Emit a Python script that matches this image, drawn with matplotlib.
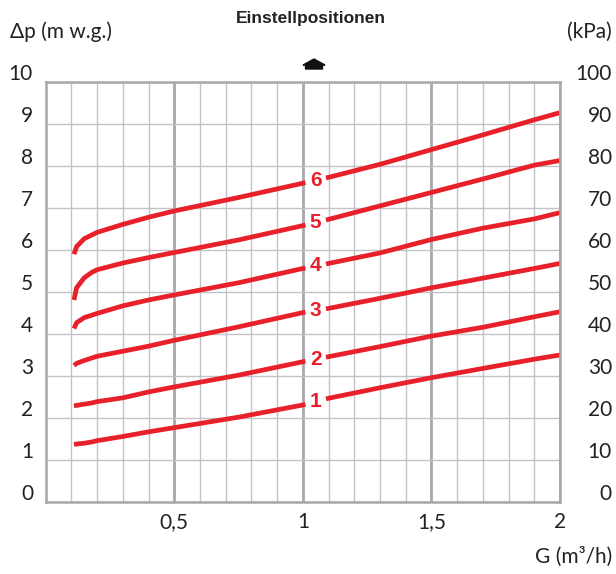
import numpy as np
import matplotlib
matplotlib.use("Agg")
import matplotlib.pyplot as plt
from matplotlib.patches import Polygon
from matplotlib.transforms import blended_transform_factory

# Durchfluss G (m3/h)
g = [0.11, 0.12, 0.15, 0.18, 0.2, 0.3, 0.4, 0.5, 0.75, 1.0, 1.1, 1.3, 1.5, 1.7, 1.9, 2.0]

# Druckverlust (m w.g.) je Einstellposition
pos_1 = [1.37, 1.38, 1.40, 1.43, 1.46, 1.56, 1.67, 1.77, 2.02, 2.31, 2.47, 2.72, 2.96, 3.18, 3.40, 3.50]
pos_2 = [2.29, 2.30, 2.33, 2.36, 2.39, 2.48, 2.62, 2.74, 3.02, 3.34, 3.46, 3.70, 3.95, 4.16, 4.41, 4.53]
pos_3 = [3.25, 3.30, 3.37, 3.43, 3.47, 3.59, 3.71, 3.85, 4.17, 4.51, 4.61, 4.85, 5.10, 5.33, 5.56, 5.68]
pos_4 = [4.13, 4.27, 4.39, 4.45, 4.49, 4.67, 4.81, 4.93, 5.22, 5.56, 5.68, 5.93, 6.25, 6.52, 6.74, 6.89]
pos_5 = [4.81, 5.10, 5.34, 5.47, 5.53, 5.69, 5.82, 5.94, 6.24, 6.58, 6.73, 7.05, 7.37, 7.69, 8.02, 8.13]
pos_6 = [5.90, 6.08, 6.27, 6.36, 6.42, 6.61, 6.78, 6.93, 7.25, 7.59, 7.73, 8.04, 8.39, 8.74, 9.10, 9.27]
curves = [pos_1, pos_2, pos_3, pos_4, pos_5, pos_6]
curve_names = ["1", "2", "3", "4", "5", "6"]

x_ticks = [0.5, 1, 1.5, 2]
x_labels = ["0,5", "1", "1,5", "2"]
y_left = list(range(0, 11))
y_right = [v * 10 for v in y_left]

red = "#e8202a"
grid_light = "#c3c3c7"
grid_dark = "#a7a7ac"
tick_font = ["Lato", "DejaVu Sans"]

W, H = 616, 574
fig = plt.figure(figsize=(W / 100, H / 100), dpi=100)
ax = fig.add_axes([45.7 / W, 1 - 502 / H, (560 - 45.7) / W, (502 - 82) / H])
ax.set_xlim(0, 2)
ax.set_ylim(0, 10)

# Raster
ax.set_xticks(x_ticks)
ax.set_xticks(np.arange(1, 20) / 10, minor=True)
ax.set_yticks(y_left)
ax.set_yticklabels([])
ax.set_xticklabels(x_labels, fontsize=15, family=tick_font, color="#222222")
ax.tick_params(which="both", length=0)
ax.tick_params(axis="x", pad=7)
ax.grid(True, which="minor", axis="x", color=grid_light, linewidth=1.0)
ax.grid(True, which="major", axis="x", color=grid_dark, linewidth=2.0)
ax.grid(True, which="major", axis="y", color=grid_light, linewidth=1.0)
ax.set_axisbelow(True)
for s in ax.spines.values():
    s.set_color(grid_dark)
    s.set_linewidth(1.8)

# Kennlinien mit Lücke für die Beschriftung
gap_lo, gap_hi, lab_x = 1.01, 1.09, 1.05
for vals, name in zip(curves, curve_names):
    x = np.array(g)
    y = np.array(vals)
    left = x < gap_lo
    right = x > gap_hi
    xl = np.append(x[left], gap_lo)
    yl = np.append(y[left], np.interp(gap_lo, x, y))
    xr = np.insert(x[right], 0, gap_hi)
    yr = np.insert(y[right], 0, np.interp(gap_hi, x, y))
    ax.plot(xl, yl, color=red, linewidth=3.4, solid_capstyle="butt",
            solid_joinstyle="round")
    ax.plot(xr, yr, color=red, linewidth=3.4, solid_capstyle="butt",
            solid_joinstyle="round")
    ax.text(lab_x, np.interp(lab_x, x, y), name, color=red, fontsize=15,
            fontweight="bold", family="Liberation Sans", ha="center", va="center")

# Achsbeschriftungen links und rechts
tl = blended_transform_factory(fig.transFigure, ax.transData)
for v, r in zip(y_left, y_right):
    ax.text(33 / W, v + 0.2, str(v), transform=tl, ha="right", va="center",
            fontsize=15, family=tick_font, color="#222222")
    ax.text(612 / W, v + 0.2, str(r), transform=tl, ha="right", va="center",
            fontsize=15, family=tick_font, color="#222222")

fig.text(10 / W, 1 - 32 / H, "Δp (m w.g.)", ha="left", va="center",
         fontsize=15, family=tick_font, color="#222222")
fig.text(612 / W, 1 - 32 / H, "(kPa)", ha="right", va="center",
         fontsize=15, family=tick_font, color="#222222")
fig.text(612 / W, 1 - 557 / H, "G (m³/h)", ha="right", va="center",
         fontsize=15, family=tick_font, color="#222222")
fig.text(311 / W, 1 - 18 / H, "Einstellpositionen", ha="center", va="center",
         fontsize=12.5, fontweight="bold", family="Liberation Sans", color="#222222")

# kleiner Pfeil
cx, by = 314, 69
pts = [(-8.5, 0), (8.5, 0), (8.5, 4), (11, 4), (0, 10), (-11, 4), (-8.5, 4)]
arrow = Polygon([((cx + dx) / W, 1 - (by - dy) / H) for dx, dy in pts],
                closed=True, transform=fig.transFigure, color="#111111")
fig.patches.append(arrow)

fig.savefig("out.png", dpi=100)
